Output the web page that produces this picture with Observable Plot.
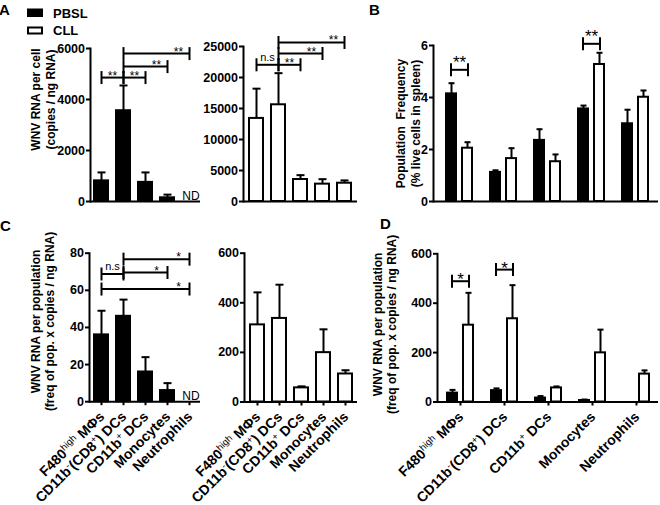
<!DOCTYPE html>
<html><head><meta charset="utf-8">
<script src="https://cdn.jsdelivr.net/npm/d3@7"></script>
<script src="https://cdn.jsdelivr.net/npm/@observablehq/plot@0.6"></script>
<style>
body{margin:0;background:#fff;}
#fig{position:relative;width:660px;height:505px;overflow:hidden;background:#fff;}
#fig svg{position:absolute;left:0;top:0;font-family:'Liberation Sans', Arial, Helvetica, sans-serif;font-weight:bold;font-size:12.5px;color:black;background:transparent;overflow:visible;}
</style></head><body><div id="fig">
<svg width="660" height="505" font-family="'Liberation Sans', Arial, sans-serif" font-weight="bold">
<text x="-1" y="15" font-size="15">A</text>
<text x="369" y="15" font-size="15">B</text>
<text x="0" y="231" font-size="15">C</text>
<text x="380" y="229" font-size="15">D</text>
<rect x="28" y="9.5" width="14" height="6.5" fill="black" stroke="black" stroke-width="2"/>
<text x="53" y="17.5" font-size="13">PBSL</text>
<rect x="28" y="27.5" width="14" height="6" fill="white" stroke="black" stroke-width="2"/>
<text x="53" y="35" font-size="13">CLL</text>
</svg>
</div>
<script>
// ---------- data ----------
const cells = ["F480high MΦs", "CD11b-(CD8+) DCs", "CD11b+ DCs", "Monocytes", "Neutrophils"];
const tickLabels = ["F480{high} MΦs", "CD11b{-}(CD8{+}) DCs", "CD11b{+} DCs", "Monocytes", "Neutrophils"];

// A: WNV RNA per cell (copies / ng RNA)
const perCellPBSL    = [810, 3560, 750, 145, null];
const perCellPBSLErr = [330, 990, 390, 125, null];
const perCellCLL     = [13400, 15600, 3550, 2800, 2950];
const perCellCLLErr  = [4800, 5100, 700, 800, 450];
const ticksPerCellPBSL = [0, 2000, 4000, 6000];
const ticksPerCellCLL  = [0, 5000, 10000, 15000, 20000, 25000];

// B: Population frequency (% live cells in spleen)
const freqPBSL    = [4.14, 1.12, 2.35, 3.56, 2.99];
const freqPBSLErr = [0.41, 0.08, 0.43, 0.13, 0.54];
const freqCLL     = [2.05, 1.65, 1.53, 5.27, 4.01];
const freqCLLErr  = [0.23, 0.40, 0.28, 0.45, 0.26];
const ticksFreq = [0, 2, 4, 6];

// C / D: WNV RNA per population
const perPopPBSL    = [36, 46, 16, 6, null];
const perPopPBSLErr = [13, 9, 8, 4, null];
const perPopCLL     = [311, 337, 57, 199, 113];
const perPopCLLErr  = [131, 136, 6, 94, 15];
const ticksPerPopPBSL = [0, 20, 40, 60, 80];
const ticksPerPopCLL  = [0, 200, 400, 600];

// significance brackets (category index from -> to, bracket height, label)
const sigAPBSL = [{from:0,to:1,y:4860,label:"**"},{from:1,to:2,y:4860,label:"**"},{from:1,to:3,y:5290,label:"**"},{from:1,to:4,y:5800,label:"**"}];
const sigACLL  = [{from:0,to:1,y:22050,label:"n.s"},{from:1,to:2,y:22050,label:"**"},{from:1,to:3,y:23870,label:"**"},{from:1,to:4,y:25650,label:"**"}];
const sigCPBSL = [{from:0,to:1,y:68.8,label:"n.s"},{from:1,to:3,y:69.6,label:"*"},{from:1,to:4,y:76.8,label:"*"},{from:0,to:4,y:60.7,label:"*"}];
const sigB = [{at:0,y:5.065,label:"**"},{at:3,y:6.065,label:"**"}];
const sigD = [{at:0,y:489,label:"*"},{at:1,y:536,label:"*"}];

const titleA = "WNV RNA per cell\n(copies / ng RNA)";
const titleB = "Population  Frequency\n(% live cells in spleen)";
const titleC = "WNV RNA per population\n(freq of pop. x copies / ng RNA)";

// ---------- helpers ----------
const W = 660, H = 505;
const rows = (m, e) => cells.map((c, i) => ({cell: c, mean: m[i], err: e[i]})).filter(d => d.mean != null);
const vline = {draw(ctx, size){const r = Math.sqrt(size/Math.PI); ctx.moveTo(0,-r); ctx.lineTo(0,r);}};
const hline = {draw(ctx, size){const r = Math.sqrt(size/Math.PI); ctx.moveTo(-r,0); ctx.lineTo(r,0);}};
const K = {stroke: "black", strokeWidth: 2};

function plot({left, right, top, bottom, yMax, ticks, x, xAxis, marks}) {
  const svg = Plot.plot({
    width: W, height: H,
    marginLeft: left, marginRight: W - right, marginTop: top, marginBottom: H - bottom,
    x: Object.assign({type: "band", domain: cells, label: null}, x, xAxis ? {} : {axis: null}),
    y: {domain: [0, yMax], label: null},
    marks: [
      ...marks,
      Plot.ruleY([0], K),
      Plot.frame({anchor: "left", ...K}),
      Plot.axisY({ticks, tickSize: 4, tickPadding: 1.5, tickFormat: d => String(d), label: null, strokeWidth: 2, fontWeight: "bold", fontSize: 12.5}),
      ...(xAxis ? [
        Plot.axisX({tickSize: 4, tickFormat: () => "", label: null, strokeWidth: 2}),
        Plot.text(cells, {x: d => d, text: d => tickLabels[cells.indexOf(d)], frameAnchor: "bottom", rotate: -45,
          textAnchor: "end", lineAnchor: "middle", dx: 0.5, dy: 12.5, fontSize: 14, fontWeight: "bold"})
      ] : [])
    ]
  });
  svg.style.background = "transparent";
  svg.querySelectorAll("text").forEach(supify);
  document.getElementById("fig").append(svg);
}

function supify(el) {
  const s = el.textContent;
  if (!s.includes("{") || el.querySelector("tspan")) return;
  el.textContent = "";
  let raised = false;
  for (const p of s.split(/(\{[^}]*\})/)) {
    if (!p) continue;
    const t = document.createElementNS("http://www.w3.org/2000/svg", "tspan");
    if (p.startsWith("{")) {
      t.textContent = p.slice(1, -1);
      t.setAttribute("font-size", "9.5");
      t.setAttribute("font-weight", "normal");
      t.setAttribute("dy", "-5");
      raised = true;
    } else {
      t.textContent = p;
      if (raised) { t.setAttribute("dy", "5"); raised = false; }
    }
    el.appendChild(t);
  }
}

function singleMarks(data, fill) {
  return [
    Plot.barY(data, {x: "cell", y: "mean", fill, ...K}),
    Plot.ruleX(data, {x: "cell", y1: "mean", y2: d => d.mean + d.err, ...K}),
    Plot.dot(data, {x: "cell", y: d => d.mean + d.err, symbol: hline, r: 4, fill: "none", ...K})
  ];
}
function bracketMarks(sig, starSize) {
  const ends = sig.flatMap(d => [{c: cells[d.from], y: d.y}, {c: cells[d.to], y: d.y}]);
  return [
    Plot.link(sig, {x1: d => cells[d.from], x2: d => cells[d.to], y1: "y", y2: "y", ...K}),
    Plot.dot(ends, {x: "c", y: "y", symbol: vline, r: 6.5, fill: "none", ...K}),
    Plot.text(sig.filter(d => d.label !== "n.s"), {x: d => cells[d.to], y: "y", text: "label", dx: -11, dy: 2,
      lineAnchor: "bottom", fontWeight: "normal", fontSize: starSize}),
    Plot.text(sig.filter(d => d.label === "n.s"), {x: d => cells[d.to], y: "y", text: "label", dx: -11, dy: -4,
      lineAnchor: "bottom", fontWeight: "normal", fontSize: 11})
  ];
}
function ndMarks(means) {
  return [Plot.text(cells.filter((c, i) => means[i] == null), {x: d => d, y: () => 0, text: () => "ND",
    lineAnchor: "bottom", dx: 1.5, dy: -2, fontWeight: "normal", fontSize: 12})];
}
function groupedMarks(p, c, capR) {
  return [
    Plot.barY(p, {x: "cell", y: "mean", fill: "black", insetLeft: 9, insetRight: 25, ...K}),
    Plot.barY(c, {x: "cell", y: "mean", fill: "white", insetLeft: 25, insetRight: 9, ...K}),
    Plot.ruleX(p, {x: "cell", y1: "mean", y2: d => d.mean + d.err, dx: -8, ...K}),
    Plot.ruleX(c, {x: "cell", y1: "mean", y2: d => d.mean + d.err, dx: 8, ...K}),
    Plot.dot(p, {x: "cell", y: d => d.mean + d.err, symbol: hline, r: capR, dx: -8, fill: "none", ...K}),
    Plot.dot(c, {x: "cell", y: d => d.mean + d.err, symbol: hline, r: capR, dx: 8, fill: "none", ...K})
  ];
}
function pairSig(sig, starDy) {
  return [
    Plot.tickY(sig, {x: d => cells[d.at], y: "y", insetLeft: 13.7, insetRight: 13.7, ...K}),
    Plot.dot(sig, {x: d => cells[d.at], y: "y", symbol: vline, r: 6.5, dx: -8.5, fill: "none", ...K}),
    Plot.dot(sig, {x: d => cells[d.at], y: "y", symbol: vline, r: 6.5, dx: 8.5, fill: "none", ...K}),
    Plot.text(sig, {x: d => cells[d.at], y: "y", text: "label", dy: starDy, lineAnchor: "bottom", fontWeight: "normal", fontSize: 17})
  ];
}
function title(t, dx, dy, lh) {
  return Plot.text([t], {text: d => d, frameAnchor: "left", textAnchor: "middle", lineAnchor: "middle", rotate: -90,
    dx, dy, lineHeight: lh, fontSize: 12, fontWeight: "bold"});
}

// ---------- panels ----------
// A left (PBSL)
plot({left: 90, right: 200, top: 48, bottom: 201, yMax: 6000, ticks: ticksPerCellPBSL,
  x: {paddingInner: 0.372, paddingOuter: 0.15},
  marks: [...singleMarks(rows(perCellPBSL, perCellPBSLErr), "black"), ...bracketMarks(sigAPBSL, 12),
          ...ndMarks(perCellPBSL), title(titleA, -47.5, -25.5, 1.25)]});
// A right (CLL)
plot({left: 243, right: 357, top: 46, bottom: 201, yMax: 25000, ticks: ticksPerCellCLL,
  x: {paddingInner: 0.372, paddingOuter: 0.24},
  marks: [...singleMarks(rows(perCellCLL, perCellCLLErr), "white"), ...bracketMarks(sigACLL, 12)]});
// B
plot({left: 433, right: 658, top: 45, bottom: 201, yMax: 6, ticks: ticksFreq,
  x: {range: [436, 658], paddingInner: 0, paddingOuter: 0},
  marks: [...groupedMarks(rows(freqPBSL, freqPBSLErr), rows(freqCLL, freqCLLErr), 3), ...pairSig(sigB, -2),
          title(titleB, -25.5, 0, 1.25)]});
// C left (PBSL)
plot({left: 89, right: 200, top: 252.7, bottom: 401.2, yMax: 80, ticks: ticksPerPopPBSL, xAxis: true,
  x: {paddingInner: 0.375, paddingOuter: 0.165},
  marks: [...singleMarks(rows(perPopPBSL, perPopPBSLErr), "black"), ...bracketMarks(sigCPBSL, 12),
          ...ndMarks(perPopPBSL), title(titleC, -47, -6, 1.17)]});
// C right (CLL)
plot({left: 244, right: 357, top: 252.7, bottom: 401.5, yMax: 600, ticks: ticksPerPopCLL, xAxis: true,
  x: {paddingInner: 0.372, paddingOuter: 0.24},
  marks: [...singleMarks(rows(perPopCLL, perPopCLLErr), "white")]});
// D
plot({left: 437, right: 658, top: 253.3, bottom: 401.5, yMax: 600, ticks: ticksPerPopCLL, xAxis: true,
  x: {range: [436, 659], paddingInner: 0, paddingOuter: 0},
  marks: [...groupedMarks(rows(perPopPBSL, perPopPBSLErr), rows(perPopCLL, perPopCLLErr), 3), ...pairSig(sigD, 4),
          title(titleC, -53, -3.5, 1.17)]});
</script></body></html>
